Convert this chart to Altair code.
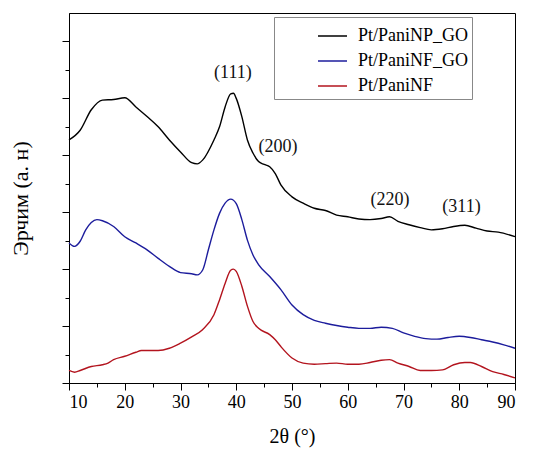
import altair as alt
import pandas as pd

# 2-theta values and intensities
x_np = [10, 12, 14, 16, 18, 20, 22, 24, 26, 28, 30, 32, 33, 34, 36, 37, 38, 39, 39.5, 40, 41, 42, 43, 44, 45, 46, 47, 48, 50, 52, 54, 56, 58, 60, 62, 64, 66, 67.5, 69, 71, 73, 75, 77, 79, 81, 83, 85, 87, 90]
y_np = [4.27, 4.44, 4.80, 4.97, 4.98, 5.01, 4.85, 4.68, 4.50, 4.27, 4.06, 3.87, 3.85, 3.92, 4.27, 4.50, 4.85, 5.08, 5.09, 5.00, 4.68, 4.27, 4.04, 3.89, 3.84, 3.80, 3.68, 3.48, 3.27, 3.16, 3.07, 3.03, 2.95, 2.92, 2.88, 2.87, 2.89, 2.92, 2.84, 2.78, 2.73, 2.69, 2.71, 2.75, 2.77, 2.72, 2.67, 2.65, 2.57]

x_nfgo = [10, 11, 12, 13, 14, 15, 16, 18, 20, 22, 24, 26, 28, 30, 32, 33, 34, 35, 36, 37, 38, 39, 40, 41, 42, 43, 44, 46, 48, 50, 52, 54, 56, 58, 60, 62, 64, 66, 68, 70, 72, 74, 76, 78, 80, 82, 84, 86, 88, 90]
y_nfgo = [2.46, 2.40, 2.49, 2.69, 2.82, 2.87, 2.85, 2.75, 2.57, 2.46, 2.34, 2.19, 2.05, 1.94, 1.92, 1.90, 1.99, 2.34, 2.69, 2.98, 3.16, 3.23, 3.15, 2.87, 2.51, 2.25, 2.08, 1.87, 1.64, 1.37, 1.20, 1.10, 1.05, 1.01, 0.98, 0.96, 0.96, 0.98, 0.96, 0.88, 0.82, 0.78, 0.77, 0.80, 0.82, 0.80, 0.76, 0.72, 0.67, 0.61]

x_nf = [10, 11, 12, 14, 16, 17, 18, 20, 22, 23, 26, 28, 30, 32, 34, 36, 37, 38, 39, 39.5, 40, 41, 42, 43, 44, 46, 47, 48, 50, 52, 54, 56, 58, 60, 62, 64, 66, 67.5, 69, 71, 73, 75, 77, 79, 81, 82, 84, 86, 88, 90]
y_nf = [0.22, 0.19, 0.22, 0.29, 0.32, 0.35, 0.41, 0.47, 0.54, 0.57, 0.57, 0.61, 0.70, 0.81, 0.94, 1.20, 1.46, 1.75, 1.98, 2.00, 1.96, 1.70, 1.35, 1.08, 0.96, 0.85, 0.76, 0.64, 0.44, 0.35, 0.33, 0.34, 0.35, 0.33, 0.33, 0.36, 0.40, 0.41, 0.35, 0.29, 0.22, 0.22, 0.23, 0.32, 0.36, 0.36, 0.29, 0.20, 0.15, 0.09]

series_names = ["Pt/PaniNP_GO", "Pt/PaniNF_GO", "Pt/PaniNF"]
series_colors = ["#000000", "#1c1c9c", "#b3141e"]

peak_labels = ["(111)", "(200)", "(220)", "(311)"]
peak_x = [39.4, 47.5, 67.6, 80.4]
peak_y = [5.45, 4.15, 3.22, 3.10]

x_major = [10, 20, 30, 40, 50, 60, 70, 80, 90]
x_minor = [15, 25, 35, 45, 55, 65, 75, 85]
y_major = [0, 1, 2, 3, 4, 5, 6]
y_minor = [0.5, 1.5, 2.5, 3.5, 4.5, 5.5]

rows = []
for name, xs, ys in zip(series_names, [x_np, x_nfgo, x_nf], [y_np, y_nfgo, y_nf]):
    for xv, yv in zip(xs, ys):
        rows.append({"x": xv, "y": yv, "series": name})
df = pd.DataFrame(rows)
ann = pd.DataFrame({"x": peak_x, "y": peak_y, "label": peak_labels})

FONT = "Liberation Serif, Times New Roman, serif"
xscale = alt.Scale(domain=[10, 90], nice=False, zero=False)
yscale = alt.Scale(domain=[0, 6.5], nice=False, zero=False)

lines = alt.Chart(df).mark_line(strokeWidth=1.4, interpolate="monotone").encode(
    x=alt.X("x:Q", scale=xscale, axis=alt.Axis(
        orient="bottom", values=x_major, tickSize=7, labelFontSize=18, labelFont=FONT,
        labelPadding=3, title="2θ (°)", titleFont=FONT, titleFontSize=20,
        titleFontWeight="normal", titlePadding=15, grid=False, format="d")),
    y=alt.Y("y:Q", scale=yscale, axis=alt.Axis(
        orient="left", values=y_major, tickSize=7, labels=False,
        title="Эрчим (а. н)", titleFont=FONT, titleFontSize=22,
        titleFontWeight="normal", titlePadding=29, grid=False)),
    color=alt.Color("series:N", sort=series_names,
                    scale=alt.Scale(domain=series_names, range=series_colors),
                    legend=alt.Legend(
                        title=None, orient="none", legendX=205, legendY=4,
                        symbolType="stroke", symbolSize=841, symbolStrokeWidth=1.5,
                        symbolOffset=39.5, labelFont=FONT, labelFontSize=18,
                        labelOffset=10, rowPadding=0, padding=3.5,
                        strokeColor="#888888", fillColor="white",
                        labelExpr="datum.label + '\u00a0\u00a0\u00a0\u00a0'")),
)

minor = alt.Chart(df).mark_line(strokeOpacity=0).encode(
    x=alt.X("x:Q", scale=xscale, axis=alt.Axis(
        orient="bottom", values=x_minor, tickSize=4, labels=False, domain=False,
        title=None, grid=False)),
    y=alt.Y("y:Q", scale=yscale, axis=alt.Axis(
        orient="left", values=y_minor, tickSize=4, labels=False, domain=False,
        title=None, grid=False)),
)

texts = alt.Chart(ann).mark_text(font=FONT, fontSize=18, color="#111111").encode(
    x=alt.X("x:Q", scale=xscale, axis=None),
    y=alt.Y("y:Q", scale=yscale, axis=None),
    text="label:N",
)

chart = alt.layer(lines, minor, texts).resolve_axis(
    x="independent", y="independent"
).properties(
    width=446, height=370,
    autosize=alt.AutoSizeParams(type="none"),
    padding={"left": 61, "top": 5, "right": 8, "bottom": 66},
    background="white",
).configure_view(
    stroke="black", strokeWidth=1
).configure_axis(
    domainColor="black", tickColor="black", labelColor="black", titleColor="black",
    domainWidth=1, tickWidth=1
)

chart.save("out.html", embed_options={"renderer": "svg", "actions": False})
